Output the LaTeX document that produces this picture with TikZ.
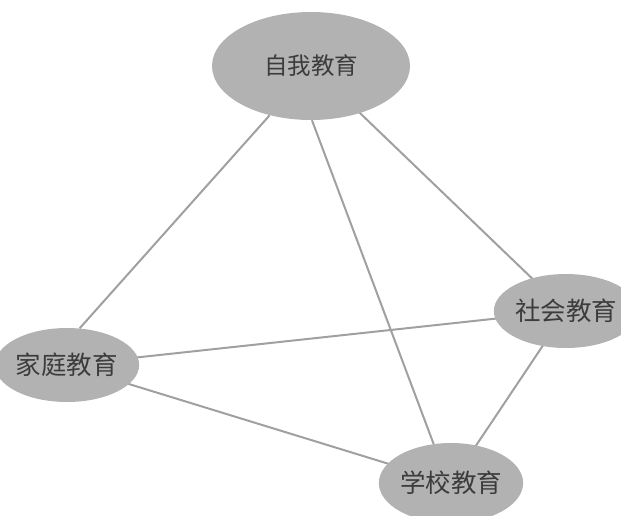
\documentclass[tikz,border=0pt]{standalone}
\usepackage{fontspec}
\newfontfamily\cjk{Noto Sans CJK SC}
\usetikzlibrary{shapes.geometric,backgrounds}
\definecolor{ellfill}{RGB}{178,178,178}
\definecolor{linec}{RGB}{160,160,160}
\definecolor{txtc}{RGB}{60,60,60}
\begin{document}
\begin{tikzpicture}[x=1pt,y=-1pt,
  edu/.style={ellipse,fill=ellfill,draw=none,inner sep=0pt,text=txtc,
    font=\cjk\fontsize{25.5}{25.5}\selectfont},
  link/.style={draw=linec,line width=2pt}]
\useasboundingbox (0,0) rectangle (621,515);
\clip (0,0) rectangle (621,515);
\node[edu,minimum width=198pt,minimum height=108pt,font=\cjk\fontsize{23.5}{23.5}\selectfont] (self) at (311,66) {自我教育};
\node[edu,minimum width=122pt,minimum height=74pt] (home) at (67,365) {家庭教育};
\node[edu,minimum width=126pt,minimum height=74pt] (soc) at (566,311) {社会教育};
\node[edu,minimum width=122pt,minimum height=80pt] (school) at (451,483) {学校教育};
\begin{scope}[on background layer]
\draw[link] (self.230) -- (home.71);
\draw[link] (self.271) -- (school.114);
\draw[link] (self.center) -- (soc.center);
\draw[link] (home.center) -- (soc.center);
\draw[link] (home.center) -- (school.center);
\draw[link] (soc.center) -- (school.center);
\end{scope}
\end{tikzpicture}
\end{document}
